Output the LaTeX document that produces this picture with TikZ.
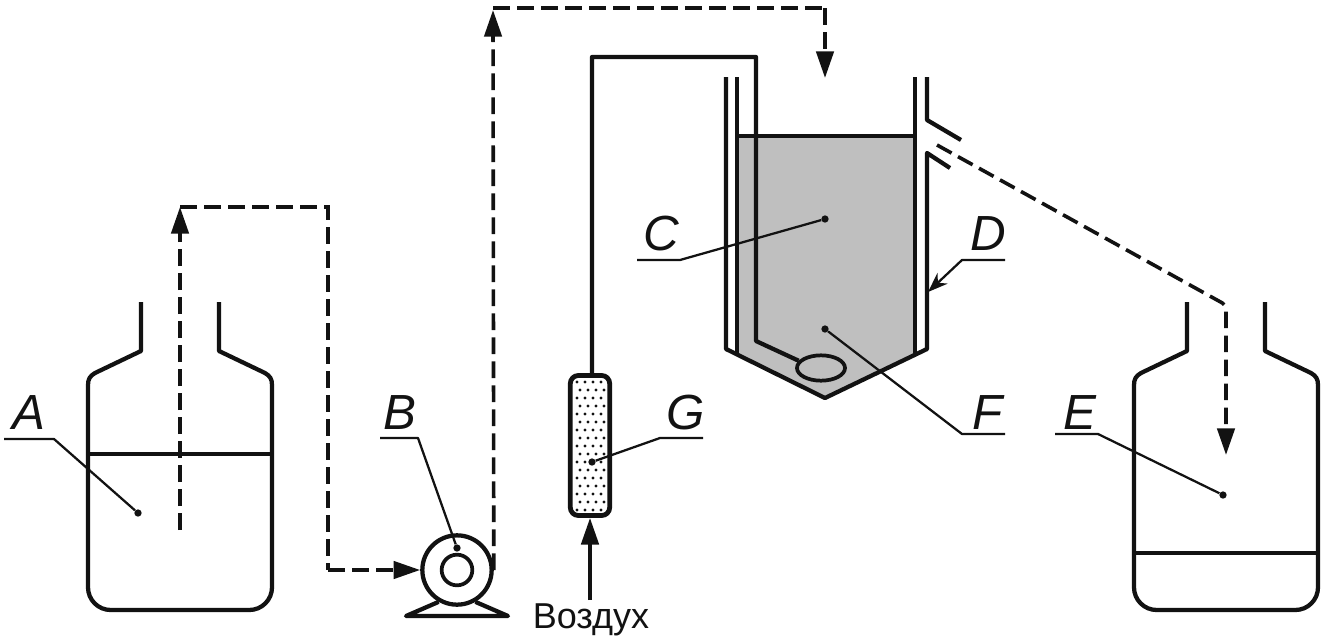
\documentclass[tikz,border=0pt]{standalone}
\usepackage{fontspec}
\setmainfont{Liberation Sans}
\usetikzlibrary{arrows.meta,shapes.geometric}
\definecolor{liquid}{gray}{0.75}
\definecolor{ink}{gray}{0.07}
\tikzset{
  wall/.style={line width=3.2pt,line join=round,draw=ink},
  leader/.style={line width=1.7pt,line join=round,draw=ink},
  flowline/.style={line width=2.7pt,dash pattern=on 12.5pt off 5.5pt,draw=ink},
  flowarrow/.style={flowline,-{Triangle[length=20pt,width=13pt]}},
  airarrow/.style={line width=2.8pt,draw=ink,-{Triangle[length=20pt,width=13pt]}},
  leadarrow/.style={leader,-{Stealth[length=15pt,width=11pt]}},
  dotpt/.style={circle,fill=ink,inner sep=0pt,minimum size=5.5pt},
  lab/.style={font=\fontsize{37}{37}\selectfont\itshape,inner sep=0pt,text=ink},
}
\newcommand{\bottle}[1]{%
  \draw[wall] (#1+53,302) -- (#1+53,351) -- (#1+7,373) .. controls (#1+2,376) and (#1,379) .. (#1,385);
  \draw[wall,rounded corners=17pt] (#1,385) -- (#1,610) -- (#1+184,610) -- (#1+184,385);
  \draw[wall] (#1+131,302) -- (#1+131,351) -- (#1+177,373) .. controls (#1+182,376) and (#1+184,379) .. (#1+184,385);
}
\begin{document}
\begin{tikzpicture}[x=0.75pt,y=-0.75pt]
\useasboundingbox (0,0) rectangle (1325,643);
% tank liquid
\fill[liquid] (737,136) -- (915,136) -- (915,354) -- (825,398) -- (737,354) -- cycle;
% bottles
\bottle{88}
\draw[wall] (88,454) -- (272,454);
\bottle{1134}
\draw[wall] (1134,553) -- (1318,553);
% tank
\draw[wall] (726,77) -- (726,349) -- (825,398) -- (927,349) -- (927,153) -- (950,168);
\draw[wall] (737,77) -- (737,354);
\draw[wall] (915,77) -- (915,354);
\draw[wall] (927,77) -- (927,120) -- (961,140);
\draw[wall] (737,136) -- (915,136);
% pump
\node[draw=ink,line width=3.2pt,circle,fill=white,minimum size=52pt,inner sep=0pt] (pump) at (457,570) {};
\node[draw=ink,line width=2.8pt,circle,minimum size=23pt,inner sep=0pt] (rotor) at (457,570) {};
\draw[wall] (pump.240) -- (406,616) -- (508,616) -- (pump.300);
% filter
\node[draw=ink,line width=3.6pt,rounded corners=6pt,fill=white,minimum width=29.5pt,minimum height=105pt,inner sep=0pt] (filter) at (590,445.5) {};
\foreach \r in {0,...,16}{
  \pgfmathsetmacro{\yy}{382+8*\r}
  \foreach \c in {0,...,3}{
    \pgfmathsetmacro{\xx}{577+8*\c+mod(\r,2)*3}
    \fill[ink] (\xx,\yy) circle (1.3pt);
  }
}
% aerator
\node[draw=ink,line width=2.8pt,ellipse,minimum width=36pt,minimum height=19pt,inner sep=0pt] (stone) at (821,368) {};
\coordinate (p1) at (592,57);
\coordinate (p2) at (756,57);
\coordinate (p3) at (756,341);
\draw[wall] (filter.north -| p1) -- (p1) -- (p2) -- (p3) -- (stone.162);
% air
\coordinate (air0) at (590,600);
\draw[airarrow] (air0) -- (filter.south);
\node[font=\fontsize{27}{27}\selectfont,inner sep=0pt,text=ink] (airlabel) at (591,620) {Воздух};
% flows
\coordinate (a0) at (180,530);
\coordinate (a1) at (180,207);
\coordinate (a2) at (328,207);
\coordinate (a3) at (328,570);
\draw[flowarrow] (a0) -- (a1);
\draw[flowline] (a1) -- (a2) -- (a3);
\draw[flowarrow] (a3) -- (pump.west);
\coordinate (b0) at (493,10);
\coordinate (b1) at (493,8);
\coordinate (b2) at (825,8);
\coordinate (b3) at (825,78);
\draw[flowarrow] (pump.east) -- (b0);
\draw[flowline] (b1) -- (b2);
\draw[flowarrow] (b2) -- (b3);
\coordinate (e0) at (937,145);
\coordinate (e1) at (1226,305);
\coordinate (e2) at (1226,455);
\draw[flowarrow,rounded corners=3pt] (e0) -- (e1) -- (e2);
% leaders
\node[dotpt] (dA) at (138,513) {};
\node[dotpt] (dB) at (457,548) {};
\node[dotpt] (dC) at (825,219) {};
\node[dotpt] (dE) at (1223,495) {};
\node[dotpt] (dF) at (825,329) {};
\node[dotpt] (dG) at (592,462) {};
\coordinate (uA0) at (4,439);   \coordinate (uA1) at (54,439);
\coordinate (uB0) at (380,438); \coordinate (uB1) at (418,438);
\coordinate (uC0) at (637,260); \coordinate (uC1) at (680,260);
\coordinate (uD0) at (1005,260);\coordinate (uD1) at (962,260);
\coordinate (uE0) at (1055,434);\coordinate (uE1) at (1098,434);
\coordinate (uF0) at (1005,434);\coordinate (uF1) at (962,434);
\coordinate (uG0) at (703,438); \coordinate (uG1) at (660,438);
\coordinate (dD) at (928,292);
\draw[leader] (uA0) -- (uA1) -- (dA);
\draw[leader] (uB0) -- (uB1) -- (dB);
\draw[leader] (uC0) -- (uC1) -- (dC);
\draw[leadarrow] (uD0) -- (uD1) -- (dD);
\draw[leader] (uE0) -- (uE1) -- (dE);
\draw[leader] (uF0) -- (uF1) -- (dF);
\draw[leader] (uG0) -- (uG1) -- (dG);
% labels
\node[lab] (A) at (29,413) {A};
\node[lab] (B) at (400,413) {B};
\node[lab] (C) at (661,234) {C};
\node[lab] (D) at (988,234) {D};
\node[lab] (E) at (1080,413) {E};
\node[lab] (F) at (988,413) {F};
\node[lab] (G) at (686,413) {G};
\end{tikzpicture}
\end{document}
